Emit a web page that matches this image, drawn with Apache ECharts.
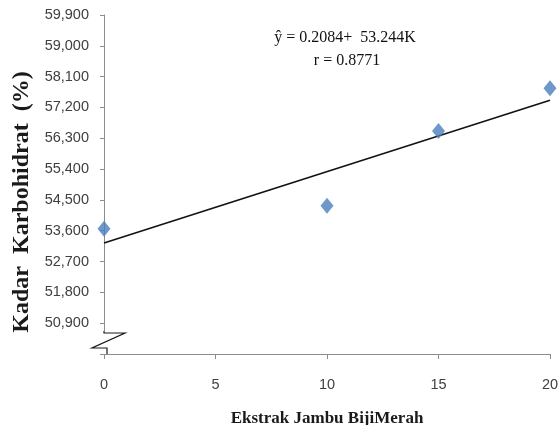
<!DOCTYPE html>
<html>
<head>
<meta charset="utf-8">
<script src="https://cdn.jsdelivr.net/npm/echarts@6/dist/echarts.min.js"></script>
<style>html,body{margin:0;padding:0;background:#fff}#c{width:559px;height:425px}</style>
</head>
<body>
<div id="c"></div>
<script>
// Data
var xValues = [0, 10, 15, 20];
var yValues = [53660, 54330, 56510, 57760];
var trendX = [0, 20];
var trendY = [53244, 57412];
var xTicks = [0, 5, 10, 15, 20];
var yTickLabels = ['50,900','51,800','52,700','53,600','54,500','55,400','56,300','57,200','58,100','59,000','59,900'];
var equationText = 'ŷ = 0.2084+  53.244K';
var rText = 'r = 0.8771';
var xTitle = 'Ekstrak Jambu BijiMerah';
var yTitle = 'Kadar  Karbohidrat  (%)';

var chart = echarts.init(document.getElementById('c'), null, {renderer: 'canvas'});
var pts = xValues.map(function (x, i) { return [x, yValues[i]]; });
var trend = trendX.map(function (x, i) { return [x, trendY[i]]; });

function fmt(v) {
  var s = String(Math.round(v));
  return s.replace(/\B(?=(\d{3})+(?!\d))/g, ',');
}

chart.setOption({
  animation: false,
  backgroundColor: '#ffffff',
  grid: {left: 104, right: 9, top: 15, bottom: 71, containLabel: false, outerBoundsMode: 'none'},
  xAxis: {
    type: 'value', min: 0, max: 20, interval: 5,
    name: xTitle, nameLocation: 'middle', nameGap: 56,
    nameTextStyle: {fontFamily: 'Liberation Serif', fontWeight: 'bold', fontSize: 17, color: '#1a1a1a'},
    axisLine: {show: true, lineStyle: {color: '#8c8c8c', width: 1}},
    axisTick: {show: true, length: 5, lineStyle: {color: '#8c8c8c'}},
    axisLabel: {
      margin: 23, color: '#404040', fontFamily: 'Liberation Sans', fontSize: 14.5,
      formatter: function (v) { return xTicks.indexOf(v) >= 0 ? String(v) : ''; }
    },
    splitLine: {show: false}
  },
  yAxis: {
    type: 'value', min: 50000, max: 59900, interval: 900,
    axisLine: {show: true, lineStyle: {color: '#8c8c8c', width: 1}},
    axisTick: {show: true, length: 4, lineStyle: {color: '#8c8c8c'}},
    axisLabel: {
      margin: 15, color: '#404040', fontFamily: 'Liberation Sans', fontSize: 14.5,
      formatter: function (v) { var s = fmt(v); return yTickLabels.indexOf(s) >= 0 ? s : ''; }
    },
    splitLine: {show: false}
  },
  series: [
    {
      type: 'line', data: trend, symbol: 'none', z: 2,
      lineStyle: {color: '#111111', width: 1.5}
    },
    {
      type: 'scatter', data: pts, symbol: 'diamond', symbolSize: [13, 16], z: 3,
      itemStyle: {color: '#4a7ebb'}
    }
  ],
  graphic: [
    {type: 'rect', shape: {x: 88, y: 331, width: 19, height: 23}, style: {fill: '#ffffff'}, z: 100},
    {type: 'polyline', shape: {points: [[104, 331], [104, 333], [125, 333], [92, 348], [107, 348], [107, 354]]},
      style: {stroke: '#1a1a1a', lineWidth: 1.2, fill: null}, z: 101},
    {type: 'text', x: 22, y: 202, rotation: Math.PI / 2, z: 101,
      style: {text: yTitle, font: 'bold 24px "Liberation Serif"', fill: '#1a1a1a', align: 'center', verticalAlign: 'middle'}},
    {type: 'text', x: 345, y: 38, z: 101,
      style: {text: equationText, font: '16px "Liberation Serif"', fill: '#111111', align: 'center', verticalAlign: 'middle'}},
    {type: 'text', x: 347, y: 61, z: 101,
      style: {text: rText, font: '16px "Liberation Serif"', fill: '#111111', align: 'center', verticalAlign: 'middle'}}
  ]
});
</script>
</body>
</html>
